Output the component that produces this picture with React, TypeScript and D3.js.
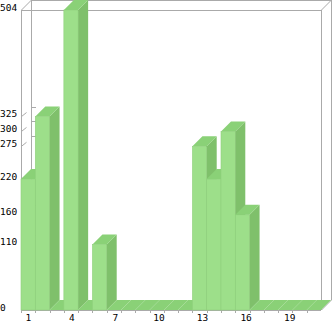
import React from "react";
import * as d3 from "d3";

const categories = Array.from({ length: 21 }, (_, i) => String(i + 1));
const values = [220, 325, 0, 504, 0, 110, 0, 0, 0, 0, 0, 0, 275, 220, 300, 160, 0, 0, 0, 0, 0];
const yTickValues = [0, 110, 160, 220, 275, 300, 325, 504];
const xTickLabels = ["1", "4", "7", "10", "13", "16", "19"];

const W = 333, H = 321;
const left = 21, right = 321, top = 10, bottom = 310;
const depth = 10;
const grid = "#aaaaaa";
const frontC = "#9ddf8a", topC = "#8ad177", sideC = "#7fc06b", edgeC = "#8fcf7c";

export default function App() {
  const x = d3.scaleBand<string>().domain(categories).range([left, right]).paddingInner(0).paddingOuter(0);
  const xl = d3.scaleBand<string>().domain(categories).range([left, right + depth / 2]);
  const y = d3.scaleLinear().domain([0, 504]).range([bottom, top]);
  const bw = x.bandwidth();
  const pts = (a: number[][]) => a.map((p) => p.join(",")).join(" ");
  return (
    <svg width={W} height={H} style={{ position: "absolute", left: 0, top: 0, display: "block" }}>
      <rect width={W} height={H} fill="#fff" />
      {/* box */}
      <g stroke={grid} strokeWidth={1} fill="none" shapeRendering="crispEdges">
        <line x1={left + 0.5} y1={top} x2={left + 0.5} y2={bottom} />
        <line x1={left + depth + 0.5} y1={top - depth} x2={left + depth + 0.5} y2={bottom - depth} />
        <line x1={right + 0.5} y1={top} x2={right + 0.5} y2={bottom} />
        <line x1={right + depth + 0.5} y1={top - depth} x2={right + depth + 0.5} y2={bottom - depth} />
        <line x1={left} y1={y(504) + 0.5} x2={right} y2={y(504) + 0.5} />
        <line x1={left + depth} y1={y(504) - depth + 0.5} x2={right + depth} y2={y(504) - depth + 0.5} />
        <line x1={left} y1={bottom + 0.5} x2={right} y2={bottom + 0.5} />
      </g>
      <g stroke={grid} strokeWidth={1} fill="none">
        <line x1={left + 0.5} y1={top} x2={left + depth + 0.5} y2={top - depth} />
        <line x1={right + 0.5} y1={top} x2={right + depth + 0.5} y2={top - depth} />
        <line x1={right + 0.5} y1={bottom} x2={right + depth + 0.5} y2={bottom - depth} />
        {yTickValues.filter((v) => v > 0 && v < 504).map((v) => (
          <g key={v}>
            <line x1={left + 0.5} y1={y(v)} x2={left + 5.5} y2={y(v) - 4} />
            <line x1={left + depth} y1={y(v) - depth + 0.5} x2={left + depth + 5} y2={y(v) - depth + 0.5} shapeRendering="crispEdges" />
          </g>
        ))}
        {categories.map((c) => (
          <line key={c} x1={(x(c) as number) + 0.5} y1={bottom} x2={(x(c) as number) + 0.5} y2={bottom + 3} shapeRendering="crispEdges" />
        ))}
      </g>
      {/* bars */}
      {categories.map((c, i) => {
        const x0 = x(c) as number;
        const x1 = x0 + bw;
        const yt = y(values[i]);
        return (
          <g key={c}>
            {values[i] > 0 && (
              <rect x={x0} y={yt} width={bw} height={bottom - yt} fill={frontC} stroke={edgeC} strokeWidth={0.6} />
            )}
            <polygon points={pts([[x1, yt], [x1 + depth, yt - depth], [x1 + depth, bottom - depth], [x1, bottom]])} fill={sideC} />
            <polygon points={pts([[x0, yt], [x1, yt], [x1 + depth, yt - depth], [x0 + depth, yt - depth]])} fill={topC} />
          </g>
        );
      })}
      {/* labels */}
      <g fontFamily="'DejaVu Sans Mono', monospace" fontSize={9.5} fill="#000">
        {yTickValues.map((v) => (
          <text key={v} x={0} y={y(v) - 3} dominantBaseline="central">{v}</text>
        ))}
        {xTickLabels.map((l) => (
          <text key={l} x={(xl(l) as number) + xl.bandwidth() / 2} y={317} textAnchor="middle" dominantBaseline="central">{l}</text>
        ))}
      </g>
    </svg>
  );
}
